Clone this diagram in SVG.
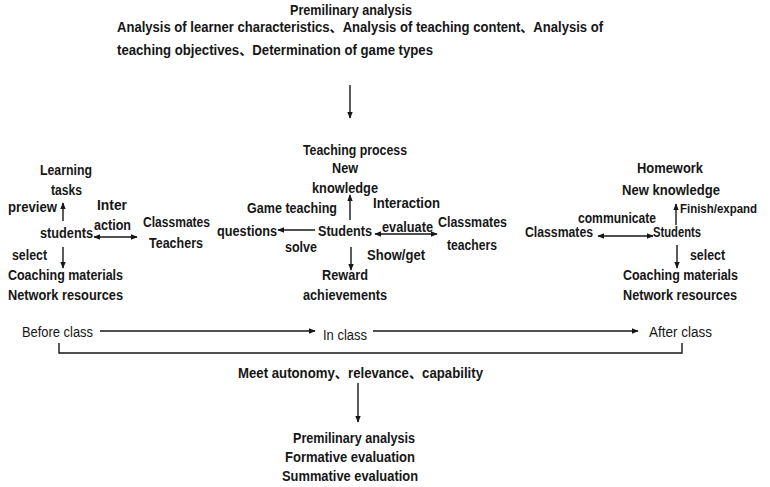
<svg xmlns="http://www.w3.org/2000/svg" width="770" height="487" viewBox="0 0 770 487">
<defs>
<style>
text{font-family:"Liberation Sans","Noto Sans CJK SC",sans-serif;font-size:14px;font-weight:bold;fill:#161616}
.n{font-weight:normal}
.ln{stroke:#161616;stroke-width:1.4;fill:none}
</style>
<marker id="ah" viewBox="0 0 10 10" refX="9" refY="5" markerWidth="7" markerHeight="7" markerUnits="userSpaceOnUse" orient="auto-start-reverse">
<path d="M0,1 L10,5 L0,9 z" fill="#161616"/>
</marker>
</defs>
<rect width="770" height="487" fill="#fff"/>

<g id="prelim">
<text x="290" y="15" textLength="122" lengthAdjust="spacingAndGlyphs">Premilinary analysis</text>
<text x="117" y="32" textLength="486" lengthAdjust="spacingAndGlyphs">Analysis of learner characteristics、Analysis of teaching content、Analysis of</text>
<text x="117" y="55" textLength="316" lengthAdjust="spacingAndGlyphs">teaching objectives、Determination of game types</text>
</g>

<g id="before">
<text x="40" y="175" textLength="52" lengthAdjust="spacingAndGlyphs">Learning</text>
<text x="51" y="195" textLength="31" lengthAdjust="spacingAndGlyphs">tasks</text>
<text x="8" y="212" textLength="49" lengthAdjust="spacingAndGlyphs">preview</text>
<text x="97" y="210" textLength="30" lengthAdjust="spacingAndGlyphs">Inter</text>
<text x="94" y="230" textLength="37" lengthAdjust="spacingAndGlyphs">action</text>
<text x="40" y="238" textLength="53" lengthAdjust="spacingAndGlyphs">students</text>
<text x="143" y="227" textLength="67" lengthAdjust="spacingAndGlyphs">Classmates</text>
<text x="149" y="248" textLength="54" lengthAdjust="spacingAndGlyphs">Teachers</text>
<text x="12" y="260" textLength="35" lengthAdjust="spacingAndGlyphs">select</text>
<text x="8" y="280" textLength="115" lengthAdjust="spacingAndGlyphs">Coaching materials</text>
<text x="8" y="300" textLength="115" lengthAdjust="spacingAndGlyphs">Network resources</text>
</g>

<g id="inclass">
<text x="303" y="155" textLength="104" lengthAdjust="spacingAndGlyphs">Teaching process</text>
<text x="332" y="173" textLength="26" lengthAdjust="spacingAndGlyphs">New</text>
<text x="312" y="193" textLength="66" lengthAdjust="spacingAndGlyphs">knowledge</text>
<text x="247" y="213" textLength="90" lengthAdjust="spacingAndGlyphs">Game teaching</text>
<text x="373" y="208" textLength="67" lengthAdjust="spacingAndGlyphs">Interaction</text>
<text x="217" y="236" textLength="60" lengthAdjust="spacingAndGlyphs">questions</text>
<text x="318" y="236" textLength="54" lengthAdjust="spacingAndGlyphs">Students</text>
<text x="382" y="232" textLength="51" lengthAdjust="spacingAndGlyphs">evaluate</text>
<text x="438" y="227" textLength="69" lengthAdjust="spacingAndGlyphs">Classmates</text>
<text x="447" y="250" textLength="50" lengthAdjust="spacingAndGlyphs">teachers</text>
<text x="285" y="252" textLength="32" lengthAdjust="spacingAndGlyphs">solve</text>
<text x="367" y="260" textLength="58" lengthAdjust="spacingAndGlyphs">Show/get</text>
<text x="322" y="280" textLength="46" lengthAdjust="spacingAndGlyphs">Reward</text>
<text x="303" y="300" textLength="84" lengthAdjust="spacingAndGlyphs">achievements</text>
</g>

<g id="after">
<text x="637" y="173" textLength="66" lengthAdjust="spacingAndGlyphs">Homework</text>
<text x="622" y="195" textLength="98" lengthAdjust="spacingAndGlyphs">New knowledge</text>
<text x="680" y="213" style="font-size:13px" textLength="77" lengthAdjust="spacingAndGlyphs">Finish/expand</text>
<text x="578" y="223" textLength="78" lengthAdjust="spacingAndGlyphs">communicate</text>
<text x="525" y="237" textLength="68" lengthAdjust="spacingAndGlyphs">Classmates</text>
<text x="653" y="237" textLength="48" lengthAdjust="spacingAndGlyphs">Students</text>
<text x="690" y="260" textLength="35" lengthAdjust="spacingAndGlyphs">select</text>
<text x="623" y="280" textLength="115" lengthAdjust="spacingAndGlyphs">Coaching materials</text>
<text x="623" y="300" textLength="114" lengthAdjust="spacingAndGlyphs">Network resources</text>
</g>

<g id="timeline">
<text class="n" x="22" y="337" textLength="71" lengthAdjust="spacingAndGlyphs">Before class</text>
<text class="n" x="323" y="340" textLength="44" lengthAdjust="spacingAndGlyphs">In class</text>
<text class="n" x="649" y="337" textLength="63" lengthAdjust="spacingAndGlyphs">After class</text>
</g>

<g id="meet">
<text x="238" y="378" textLength="245" lengthAdjust="spacingAndGlyphs">Meet autonomy、relevance、capability</text>
</g>

<g id="evaluation">
<text x="293" y="443" textLength="122" lengthAdjust="spacingAndGlyphs">Premilinary analysis</text>
<text x="285" y="462" textLength="130" lengthAdjust="spacingAndGlyphs">Formative evaluation</text>
<text x="282" y="481" textLength="136" lengthAdjust="spacingAndGlyphs">Summative evaluation</text>
</g>

<g id="connectors">
<line class="ln" x1="350" y1="85" x2="350" y2="118" marker-end="url(#ah)"/>
<line class="ln" x1="63" y1="221" x2="63" y2="203" marker-end="url(#ah)"/>
<line class="ln" x1="63" y1="247" x2="63" y2="268" marker-end="url(#ah)"/>
<line class="ln" x1="94" y1="237" x2="137" y2="237" marker-start="url(#ah)" marker-end="url(#ah)"/>
<line class="ln" x1="350" y1="220" x2="350" y2="195" marker-end="url(#ah)"/>
<line class="ln" x1="315" y1="230" x2="278" y2="230" marker-end="url(#ah)"/>
<line class="ln" x1="375" y1="234" x2="437" y2="234" marker-start="url(#ah)" marker-end="url(#ah)"/>
<line class="ln" x1="351" y1="247" x2="351" y2="270" marker-end="url(#ah)"/>
<line class="ln" x1="676" y1="225" x2="676" y2="204" marker-end="url(#ah)"/>
<line class="ln" x1="598" y1="236" x2="653" y2="236" marker-start="url(#ah)" marker-end="url(#ah)"/>
<line class="ln" x1="677" y1="245" x2="677" y2="268" marker-end="url(#ah)"/>
<line class="ln" x1="100" y1="331" x2="315" y2="331" marker-end="url(#ah)"/>
<line class="ln" x1="373" y1="331" x2="638" y2="331" marker-end="url(#ah)"/>
<polyline class="ln" points="59,343 59,353 682,353 682,343"/>
<line class="ln" x1="358" y1="383" x2="358" y2="422" marker-end="url(#ah)"/>
</g>
</svg>
